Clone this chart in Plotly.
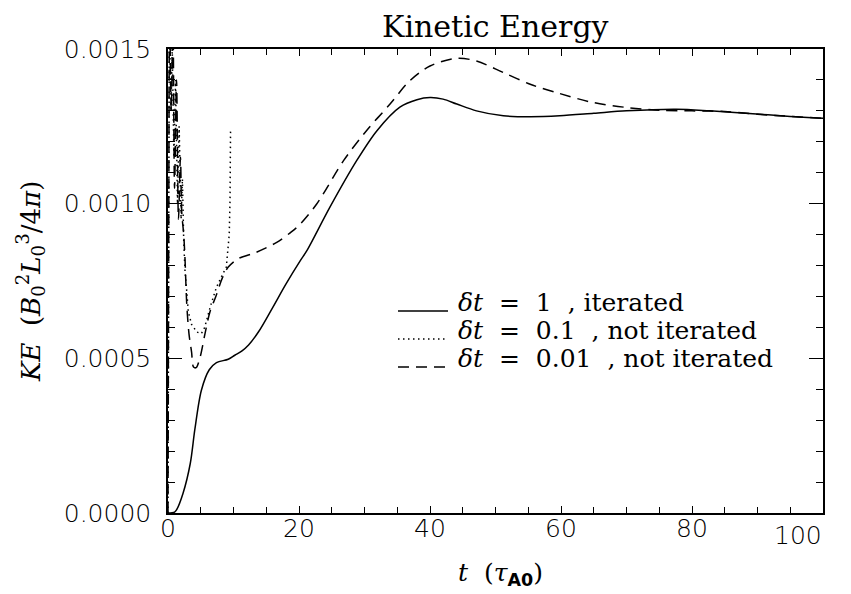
import plotly.graph_objects as go

# ---- data ----
t_iter = [0, 1.0, 1.3, 2.3, 3.4, 4.1, 5.1, 6.3, 7.4, 9.2, 10.2, 11.3, 12.3, 13.8, 16.0, 18.0,
          20.2, 21.2, 24.7, 28.8, 31.9, 35.4, 38.0, 40.0, 42.0, 44.1, 47.1, 51.2, 55.3, 59.8,
          65.0, 70.0, 77.6, 82.7, 90.4, 95.0, 100.0]
ke_iter = [0, 0.000003, 0.00001, 0.000064, 0.00016, 0.00027, 0.000397, 0.000463, 0.000486,
           0.000497, 0.00051, 0.000524, 0.000543, 0.000585, 0.000665, 0.00074,
           0.000816, 0.000848, 0.000988, 0.001139, 0.001236, 0.001312, 0.001336, 0.001343,
           0.001338, 0.001322, 0.0013, 0.001284, 0.001281, 0.001284,
           0.001292, 0.0013, 0.001305, 0.0013, 0.001289, 0.001282, 0.001276]

t_dt01 = [0, 0.1, 0.2, 0.45, 0.65, 0.9, 1.15, 1.45, 1.7, 2.0, 2.2, 2.4, 2.6, 2.85, 3.1, 3.6,
          4.4, 5.1, 5.6, 6.5, 7.4, 8.3, 8.9, 9.35, 9.47, 9.55]
ke_dt01 = [0, 0.0009, 0.0016, 0.0013, 0.0015, 0.00115, 0.0014, 0.001, 0.00125, 0.00095,
           0.00108, 0.00088, 0.00078, 0.00072, 0.00065, 0.00061,
           0.000585, 0.00058, 0.0006, 0.00067, 0.00073, 0.00077, 0.000795, 0.0009, 0.00101,
           0.00124]

t_dt001 = [0, 0.1, 0.25, 0.5, 0.75, 1.0, 1.3, 1.6, 1.9, 2.1, 2.4, 2.6, 2.85, 3.2, 3.6, 3.9,
           4.3, 4.9, 5.65, 6.4, 7.3, 8.3, 9.2, 10.7, 13.5, 16.6, 18.6, 20.0, 22.7, 26.8,
           30.3, 33.9, 36.9, 40.0, 44.1, 47.1, 51.2, 55.3, 59.8, 64.9, 70.0, 75.1, 80.0,
           85.0, 90.0, 100.0]
ke_dt001 = [0, 0.0008, 0.0016, 0.0013, 0.0016, 0.00105, 0.0014, 0.00095, 0.00115, 0.00097,
            0.0009, 0.00082, 0.00068, 0.00058, 0.00052, 0.000472,
            0.00047, 0.000504, 0.00058, 0.00065, 0.0007, 0.00076, 0.000795, 0.000822,
            0.000843, 0.000875, 0.000905, 0.00093, 0.000999, 0.001139,
            0.001236, 0.001322, 0.001397, 0.001445, 0.00147, 0.001461, 0.001424, 0.001386,
            0.001356, 0.001327, 0.001311, 0.001302, 0.0013,
            0.001298, 0.001289, 0.001276]

x_tickvals = [0, 20, 40, 60, 80, 100]
x_ticktext = ["0", "20", "40", "60", "80", ""]
x_last_label = "100"

legend_labels = ["<i>δt</i>\u00a0 = \u00a01\u00a0 , iterated",
                 "<i>δt</i>\u00a0 = \u00a00.1\u00a0 , not iterated",
                 "<i>δt</i>\u00a0 = \u00a00.01\u00a0 , not iterated"]

title_text = "Kinetic Energy"
x_title = "<i>t</i>\u00a0 (<i>τ</i><sub><span style=\"font-family:'DejaVu Sans';font-weight:bold\">A0</span></sub>)"
y_title = "<i>KE</i>\u00a0 (<i>B</i><sub>0</sub><sup>2</sup><i>L</i><sub>0</sub><sup>3</sup>/4<i>π</i>)"

# ---- figure geometry (page body has an 8px default margin) ----
OFF = 8
W, H = 851 - OFF, 594 - OFF
SL, SR, ST, SB = 168, 823, 49, 513          # plot box in screen pixels
L, R, T, B = SL - OFF, W - (SR - OFF), ST - OFF, H - (SB - OFF)
PW, PH = SR - SL, SB - ST

def px_x(p):
    return (p - SL) / PW

def px_y(p):
    return (SB - p) / PH

fig = go.Figure()
styles = [dict(color="black", width=1.5),
          dict(color="black", width=1.5, dash="1.5px,3.5px"),
          dict(color="black", width=1.5, dash="11px,7px")]
shapes_kind = ["spline", "linear", "spline"]
series = [(t_iter, ke_iter), (t_dt01, ke_dt01), (t_dt001, ke_dt001)]
for (tx, ky), st, lab, sh in zip(series, styles, legend_labels, shapes_kind):
    line = dict(st, shape=sh)
    if sh == "spline":
        line["smoothing"] = 0.9
    fig.add_trace(go.Scatter(x=tx, y=ky, mode="lines", line=line, name=lab,
                             showlegend=False, cliponaxis=True))

serif = "DejaVu Serif"
sans = "DejaVu Sans"
tick_font = dict(family=sans, size=25, color="black", weight=300)

axis_common = dict(showline=True, linecolor="black", linewidth=1.5, mirror="ticks",
                   ticks="inside", tickcolor="black", tickwidth=1.2, showgrid=False,
                   zeroline=False, tickfont=tick_font)

fig.update_xaxes(range=[0, 100], tickmode="array", tickvals=x_tickvals, ticktext=x_ticktext,
                 ticklen=7, ticklabelstandoff=-8,
                 minor=dict(dtick=5, ticklen=6, ticks="inside", tickcolor="black", tickwidth=1.2),
                 **axis_common)
fig.update_yaxes(range=[0, 0.0015], dtick=0.0005, tickformat=".4f", ticklen=14,
                 ticklabelstandoff=10,
                 minor=dict(dtick=0.0001, ticklen=7, ticks="inside", tickcolor="black", tickwidth=1.2),
                 **axis_common)

annotations = [
    dict(text=title_text, xref="paper", yref="paper", x=0.5, y=px_y(26), xanchor="center",
         yanchor="middle", showarrow=False, font=dict(family=serif, size=30, color="black")),
    dict(text=x_title, xref="paper", yref="paper", x=px_x(500), y=px_y(574), xanchor="center",
         yanchor="middle", showarrow=False, font=dict(family=serif, size=25, color="black")),
    dict(text=y_title, xref="paper", yref="paper", x=px_x(30), y=px_y(282), xanchor="center",
         yanchor="middle", textangle=-90, showarrow=False,
         font=dict(family=serif, size=26, color="black")),
    dict(text=x_last_label, xref="paper", yref="paper", x=px_x(824), y=px_y(535),
         xanchor="right", yanchor="middle", showarrow=False, font=tick_font),
]
shapes = []
rows_text = [302, 330, 358]
rows_line = [311, 339, 367]
for lab, st, ty, ly in zip(legend_labels, styles, rows_text, rows_line):
    annotations.append(dict(text=lab, xref="paper", yref="paper", x=px_x(456), y=px_y(ty),
                            xanchor="left", yanchor="middle", showarrow=False,
                            font=dict(family=serif, size=25, color="black")))
    shapes.append(dict(type="line", xref="paper", yref="paper", x0=px_x(398), x1=px_x(448),
                       y0=px_y(ly), y1=px_y(ly), line=st))

fig.update_layout(width=W, height=H, margin=dict(l=L, r=R, t=T, b=B, pad=0),
                  paper_bgcolor="white", plot_bgcolor="white",
                  annotations=annotations, shapes=shapes, showlegend=False)

fig.write_html("out.html")
